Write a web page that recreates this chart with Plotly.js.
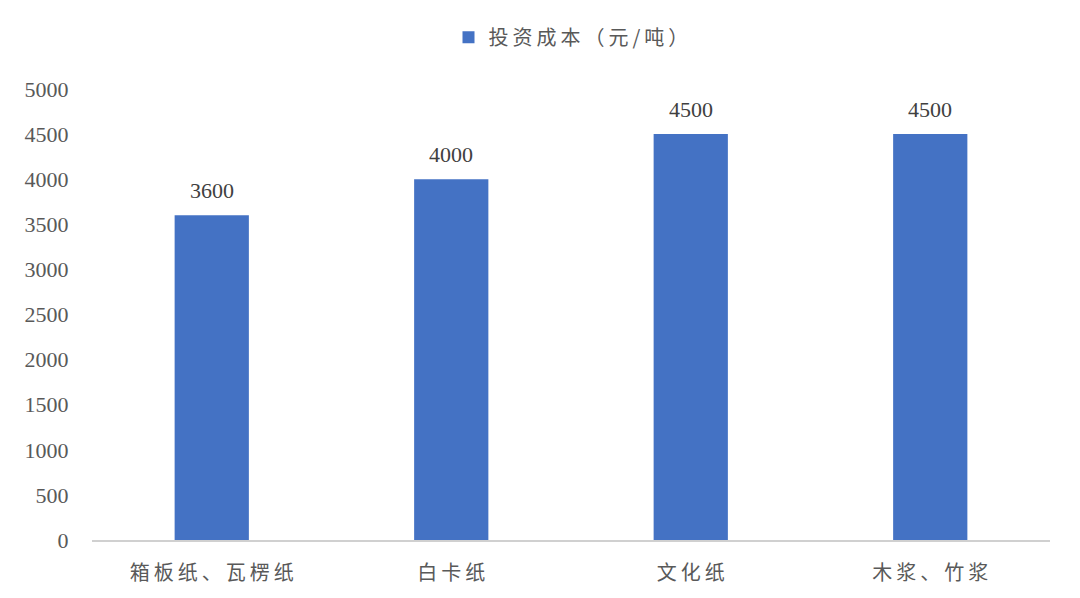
<!DOCTYPE html>
<html>
<head>
<meta charset="utf-8">
<script src="https://cdn.plot.ly/plotly-3.0.1.min.js"></script>
<style>
  html, body { margin: 0; padding: 0; background: #fff; }
  #chart { width: 1080px; height: 598px; }
</style>
</head>
<body>
<div id="chart"></div>
<script>
// categories and values
const categories = ["箱板纸、瓦楞纸", "白卡纸", "文化纸", "木浆、竹浆"];
const costValues = [3600, 4000, 4500, 4500];
const seriesName = "投资成本（元/吨）";
const yTicks = [0, 500, 1000, 1500, 2000, 2500, 3000, 3500, 4000, 4500, 5000];

const numFont = '"Liberation Serif", serif';
const cjkFont = '"Noto Sans CJK SC", sans-serif';
const textGrey = "#595959";

// the original spaces its Chinese characters out a little
const spaced = s => Array.from(s).join("\u2009");

Plotly.newPlot("chart", [
  {
    x: categories,
    y: costValues,
    name: spaced(seriesName),
    type: "bar",
    marker: { color: "#4472C4" },
    hoverinfo: "x+y"
  }
], {
  width: 1080,
  height: 598,
  margin: { l: 92, r: 30, t: 89, b: 58 },
  paper_bgcolor: "#fff",
  plot_bgcolor: "#fff",
  font: { family: numFont, color: textGrey, size: 19 },
  showlegend: true,
  legend: {
    orientation: "h",
    x: 0.5, xanchor: "center",
    y: 1.115, yanchor: "middle",
    font: { family: cjkFont, size: 20, color: textGrey },
    itemwidth: 30
  },
  bargap: 0.69,
  xaxis: {
    tickvals: categories,
    ticktext: categories.map(spaced),
    showline: true,
    linecolor: "#d0d0d0",
    linewidth: 1.5,
    ticks: "outside",
    ticklen: 14,
    tickcolor: "rgba(0,0,0,0)",
    tickfont: { family: cjkFont, size: 20, color: textGrey },
    showgrid: false,
    zeroline: false
  },
  yaxis: {
    range: [0, 5000],
    tickvals: yTicks,
    ticktext: yTicks.map(String),
    showgrid: false,
    zeroline: false,
    showline: false,
    ticks: "outside",
    ticklen: 18,
    tickcolor: "rgba(0,0,0,0)",
    tickfont: { family: numFont, size: 22, color: textGrey }
  },
  annotations: categories.map((c, i) => ({
    x: c,
    y: costValues[i],
    xref: "x",
    yref: "y",
    text: String(costValues[i]),
    showarrow: false,
    yanchor: "bottom",
    yshift: 10,
    font: { family: numFont, size: 22, color: "#404040" }
  }))
}, { displayModeBar: false, staticPlot: true });
</script>
</body>
</html>
